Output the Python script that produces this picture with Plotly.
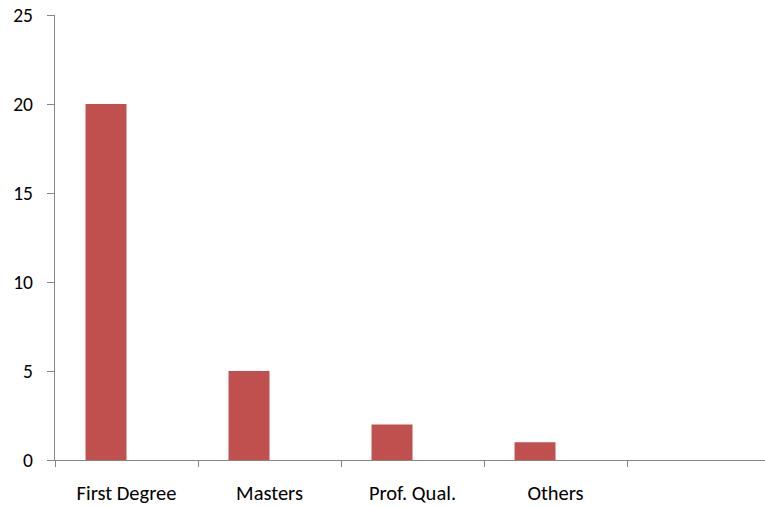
import plotly.graph_objects as go

categories = ["First Degree", "Masters", "Prof. Qual.", "Others"]
series1 = [20, 5, 2, 1]
series2 = [None, None, None, None]
ytick_vals = [0, 5, 10, 15, 20, 25]

axis_color = "#868686"
font_family = "Carlito, Calibri, Lato, 'Open Sans', sans-serif"

fig = go.Figure()
fig.add_trace(go.Bar(x=categories, y=series1, marker=dict(color="#C0504D", line=dict(width=0)), showlegend=False))
fig.add_trace(go.Bar(x=categories, y=series2, marker=dict(color="#4F81BD"), showlegend=False))

fig.update_layout(
    width=765, height=506,
    margin=dict(l=55, r=0, t=15, b=46),
    paper_bgcolor="white", plot_bgcolor="white",
    barmode="group", bargap=0.427, bargroupgap=0,
    font=dict(family=font_family, size=20, color="black"),
)
fig.update_xaxes(
    type="category", range=[-0.5, 4.465],
    showline=True, linecolor=axis_color, linewidth=1.3,
    ticks="outside", tickson="boundaries", ticklen=6, tickcolor=axis_color, tickwidth=1.3,
    showgrid=False, zeroline=False, ticklabelstandoff=14,
    tickfont=dict(size=20.5),
)
fig.update_yaxes(
    range=[0, 25], tickvals=ytick_vals,
    showline=True, linecolor=axis_color, linewidth=1.3,
    ticks="outside", ticklen=7, tickcolor=axis_color, tickwidth=1.3,
    showgrid=False, zeroline=False, ticklabelstandoff=10,
    tickfont=dict(size=19.5),
)

fig.write_html("out.html")
